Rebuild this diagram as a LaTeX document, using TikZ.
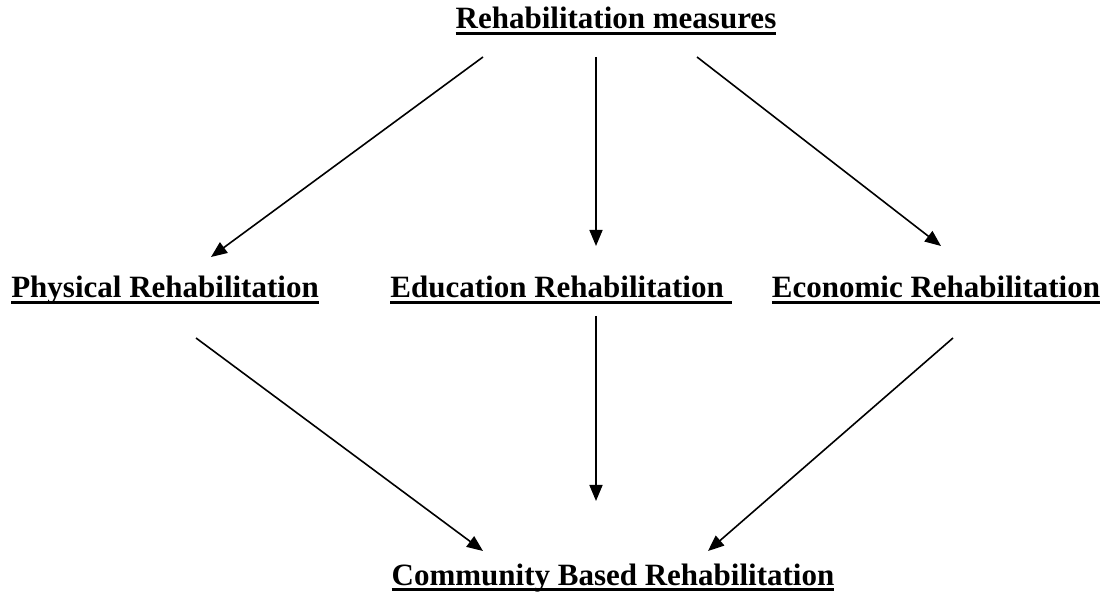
\documentclass[tikz,border=0pt]{standalone}
\usepackage{fontspec}
\setmainfont{Liberation Serif}
\usetikzlibrary{arrows.meta}
\newcommand{\ulx}[1]{\setbox0\hbox{#1}\rlap{\rule[-6.5pt]{\wd0}{3pt}}\box0}
\begin{document}
\begin{tikzpicture}[x=1pt,y=-1pt,
  lbl/.style={anchor=base,inner sep=0pt,font=\fontsize{31}{36}\selectfont\bfseries},
  arr/.style={line width=1.6pt,-{Triangle[length=16pt,width=13pt]}}]
\useasboundingbox (0,0) rectangle (1104,601);
\node[lbl] (top) at (616,29) {\ulx{Rehabilitation measures}};
\node[lbl] (phy) at (165,298) {\ulx{Physical Rehabilitation}};
\node[lbl] (edu) at (561,298) {\ulx{Education Rehabilitation\ }};
\node[lbl] (eco) at (936,298) {\ulx{Economic Rehabilitation}};
\node[lbl] (cbr) at (613,585) {\ulx{Community Based Rehabilitation}};
% arrow ends
\coordinate (t1) at (483,57);
\coordinate (t2) at (596,57);
\coordinate (t3) at (697,57);
\coordinate (p1) at (211,257);
\coordinate (e1) at (596,246);
\coordinate (o1) at (941,246);
\coordinate (p2) at (196,338);
\coordinate (e2) at (596,316);
\coordinate (o2) at (953,338);
\coordinate (c1) at (483,551);
\coordinate (c2) at (596,501);
\coordinate (c3) at (708,551);
\draw[arr] (t1) -- (p1);
\draw[arr] (t2) -- (e1);
\draw[arr] (t3) -- (o1);
\draw[arr] (p2) -- (c1);
\draw[arr] (e2) -- (c2);
\draw[arr] (o2) -- (c3);
\end{tikzpicture}
\end{document}
